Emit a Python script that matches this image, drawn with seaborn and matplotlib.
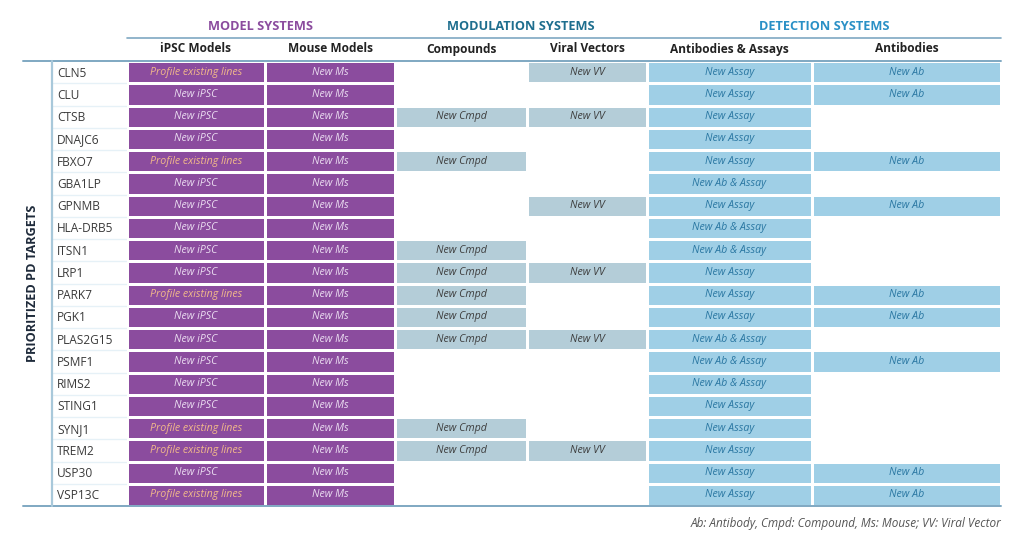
import numpy as np
import pandas as pd
import matplotlib
matplotlib.use("Agg")
import matplotlib.pyplot as plt
from matplotlib.colors import ListedColormap
from matplotlib.lines import Line2D
import seaborn as sns

sns.set_theme(style="white")
plt.rcParams['font.family'] = ['Open Sans', 'DejaVu Sans']

# ---------------- data ----------------
targets = ["CLN5", "CLU", "CTSB", "DNAJC6", "FBXO7", "GBA1LP", "GPNMB", "HLA-DRB5",
           "ITSN1", "LRP1", "PARK7", "PGK1", "PLAS2G15", "PSMF1", "RIMS2", "STING1",
           "SYNJ1", "TREM2", "USP30", "VSP13C"]
P, I = "Profile existing lines", "New iPSC"
ipsc = [P, I, I, I, P, I, I, I, I, I, P, I, I, I, I, I, P, P, I, P]
mouse = ["New Ms"] * 20
C = "New Cmpd"
compounds = ["", "", C, "", C, "", "", "", C, C, C, C, C, "", "", "", C, C, "", ""]
V = "New VV"
viral = [V, "", V, "", "", "", V, "", "", V, "", "", V, "", "", "", "", V, "", ""]
A, AA = "New Assay", "New Ab & Assay"
assays = [A, A, A, A, A, AA, A, AA, AA, A, A, A, AA, AA, AA, A, A, A, A, A]
B = "New Ab"
antibodies = [B, B, "", "", B, "", B, "", "", "", B, B, "", B, "", "", "", "", B, B]

column_labels = ["iPSC Models", "Mouse Models", "Compounds", "Viral Vectors",
                 "Antibodies & Assays", "Antibodies"]
group_labels = ["MODEL SYSTEMS", "MODULATION SYSTEMS", "DETECTION SYSTEMS"]
columns = [ipsc, mouse, compounds, viral, assays, antibodies]
column_kind = [1, 1, 2, 2, 3, 3]   # 1 model, 2 modulation, 3 detection

# ---------------- style ----------------
W, H = 1024, 546
purple = "#8B4C9E"
gray = "#B4CDD8"
blue = "#9FCFE6"
sep = "#E6F1F7"
rule = "#7FA8C2"
cmap = ListedColormap(["white", purple, gray, blue])

x_edges = [127, 265, 395, 527, 647, 812, 1001]
y_top, y_bot = 61, 506

fig = plt.figure(figsize=(W / 100, H / 100), dpi=100)
fig.patch.set_facecolor("white")


def fx(px):
    return px / W


def fy(py):
    return 1 - py / H


ax_h = (y_bot - y_top) / H
ax_b = fy(y_bot)
n = len(targets)

# label column
ax_lab = fig.add_axes([fx(52), ax_b, fx(127 - 52), ax_h])
sns.heatmap(pd.DataFrame({"t": np.zeros(n)}, index=targets), ax=ax_lab,
            mask=np.ones((n, 1), dtype=bool),
            cmap=cmap, vmin=-0.5, vmax=3.5, cbar=False,
            xticklabels=False, yticklabels=False)
for i in range(1, n):
    ax_lab.axhline(i, color=sep, lw=1.0, zorder=0)
for i, t in enumerate(targets):
    ax_lab.text(0.07, i + 0.55, t, ha="left", va="center", fontsize=8.6, color="#3a3a3a")
ax_lab.axis("off")

text_colors = {P: "#F2B98A", I: "#EBDDF1", "New Ms": "#EBDDF1"}

for j, (vals, kind) in enumerate(zip(columns, column_kind)):
    codes = np.array([kind if v else 0 for v in vals], dtype=float)
    ax = fig.add_axes([fx(x_edges[j]), ax_b, fx(x_edges[j + 1] - x_edges[j]), ax_h])
    for i in range(1, n):
        ax.axhline(i, color=sep, lw=1.0, zorder=0)
    sns.heatmap(pd.DataFrame({column_labels[j]: codes}, index=targets), ax=ax,
                mask=(codes == 0).reshape(-1, 1),
                cmap=cmap, vmin=-0.5, vmax=3.5, cbar=False, linewidths=1.0,
                linecolor="white", xticklabels=False, yticklabels=False)
    ax.axis("off")
    for i, v in enumerate(vals):
        if not v:
            continue
        if kind == 1:
            col = text_colors.get(v, "#EBDDF1")
        elif kind == 2:
            col = "#3d3d3d"
        else:
            col = "#2A77A2"
        ax.text(0.5, i + 0.5, v, ha="center", va="center", fontsize=7.7,
                style="italic", color=col)
    # column header
    fig.text(fx((x_edges[j] + x_edges[j + 1]) / 2), fy(49), column_labels[j],
             ha="center", va="center", fontsize=8.6, fontweight="bold", color="#222222")

# group headers
group_spans = [(127, 395), (395, 647), (647, 1001)]
group_colors = [purple, "#1E6E8E", "#2A90C6"]
for (a, b), lab, c in zip(group_spans, group_labels, group_colors):
    fig.text(fx((a + b) / 2), fy(26), lab, ha="center", va="center", fontsize=9.2,
             fontweight="bold", color=c)

# rules
fig.add_artist(Line2D([fx(127), fx(1001)], [fy(38), fy(38)], color=rule, lw=1.2))
fig.add_artist(Line2D([fx(23), fx(1001)], [fy(y_top), fy(y_top)], color=rule, lw=1.4))
fig.add_artist(Line2D([fx(23), fx(1001)], [fy(y_bot), fy(y_bot)], color=rule, lw=1.4))
fig.add_artist(Line2D([fx(52), fx(52)], [fy(y_top), fy(y_bot)], color="#A8C8DA", lw=1.6))

# side label
fig.text(fx(33), fy(283), "PRIORITIZED PD TARGETS", rotation=90, ha="center", va="center",
         fontsize=9.2, fontweight="bold", color="#1E2A3A")

# footnote
fig.text(fx(1001), fy(524), "Ab: Antibody, Cmpd: Compound, Ms: Mouse; VV: Viral Vector",
         ha="right", va="center", fontsize=8.5, style="italic", color="#555555")

fig.savefig("out.png", dpi=100, facecolor="white")
